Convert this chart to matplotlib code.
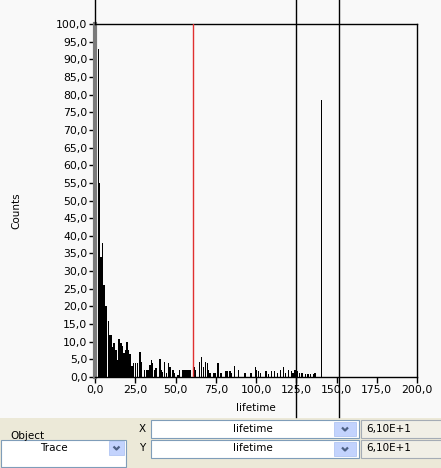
import matplotlib
matplotlib.use("Agg")
import matplotlib.pyplot as plt
from matplotlib.patches import Rectangle
from matplotlib.ticker import FuncFormatter

# ---- data ----
lifetime_bins = [2.0, 2.8, 3.7, 4.7, 5.6, 6.8, 8.5, 9.3, 10.2, 11.0, 11.8, 13.0, 14.0, 14.9,
                 16.1, 17.1, 18.0, 19.1, 19.9, 20.8, 21.7, 23.0, 24.0, 25.3, 26.4, 28.0,
                 29.0, 30.9, 32.1, 32.9, 34.2, 35.0, 35.8, 37.1, 37.9, 40.4, 41.2, 42.0,
                 43.3, 44.5, 45.8, 46.6, 48.4, 49.3, 51.6, 52.4, 54.7, 55.9, 57.1, 58.4,
                 59.4, 61.5, 62.3, 64.8, 66.0, 67.3, 68.5, 69.8, 70.4, 71.4, 73.9, 74.7,
                 76.4, 77.8, 78.7, 81.4, 82.2, 83.9, 84.7, 86.8, 89.3, 93.2, 96.9, 99.6,
                 100.2, 101.7, 103.0, 106.2, 107.6, 109.8, 111.4, 113.5, 115.1, 117.2,
                 118.4, 120.1, 122.2, 123.0, 124.2, 125.9, 127.1, 128.6, 130.6, 132.3,
                 134.0, 136.0, 136.6, 140.7]
counts = [93, 55, 34, 38, 26, 20, 16, 12, 12, 8.6, 9.7, 7.6, 4.8, 10.8,
          9.6, 8.8, 6.9, 7.6, 10, 7.6, 6.5, 3, 3.9, 3.9, 3.9, 7,
          4.3, 2, 2, 2, 3.4, 4.8, 3.9, 2, 2.5, 5.1, 2, 1.5,
          4.3, 1, 3.9, 2.9, 2, 1, 0.6, 2, 2, 2, 2, 2,
          2, 2.9, 2, 4.3, 5.8, 2.9, 4.3, 3.9, 2, 1, 1, 1,
          4.1, 1, 1, 1.8, 1.8, 1.8, 1.1, 3.1, 2, 1, 1, 2.9,
          2, 1.8, 1, 1.8, 0.9, 1.8, 1.8, 1, 2, 2.9,
          1, 2, 1.8, 1, 2, 1.8, 1, 1, 0.9, 0.9,
          0.9, 0.9, 1.1, 78.5]
red_cursor = 61.0
black_cursors = [125.0, 151.5]
x_ticks = [0, 25, 50, 75, 100, 125, 150, 175, 200]
y_ticks = [0, 5, 10, 15, 20, 25, 30, 35, 40, 45, 50, 55, 60, 65, 70, 75, 80, 85, 90, 95, 100]
x_label = "lifetime"
y_label = "Counts"
object_label = "Object"
object_value = "Trace"
x_var = "lifetime"
y_var = "lifetime"
x_value = "6,10E+1"
y_value = "6,10E+1"

W, H = 441, 468
BG = "#f9f9f9"
PANEL = "#ece9d8"
FONT = "DejaVu Sans"

fig = plt.figure(figsize=(W / 100, H / 100), dpi=100, facecolor=BG)

# overlay in pixel coordinates for the control panel
ov = fig.add_axes([0, 0, 1, 1], zorder=0)
ov.set_xlim(0, W)
ov.set_ylim(H, 0)
ov.axis("off")

# main plot axes: x 0..200 -> px 95..417, y 0..100 -> px 377..24
left, right, top, bottom = 95, 417, 24, 377
ax = fig.add_axes([left / W, (H - bottom) / H, (right - left) / W, (bottom - top) / H], zorder=2)
ax.set_facecolor(BG)
ax.bar(lifetime_bins, counts, width=0.75, color="black", align="center", linewidth=0)
ax.set_xlim(0, 200)
ax.set_ylim(0, 100)

fmt = FuncFormatter(lambda v, p: f"{v:.1f}".replace(".", ","))
ax.set_xticks(x_ticks)
ax.set_yticks(y_ticks)
ax.xaxis.set_major_formatter(fmt)
ax.yaxis.set_major_formatter(fmt)
ax.tick_params(axis="both", direction="out", length=4, width=1, color="black",
               labelsize=7.8, pad=1.5)
for lab in ax.get_xticklabels() + ax.get_yticklabels():
    lab.set_fontfamily(FONT)

for s in ["top", "right", "bottom"]:
    ax.spines[s].set_color("black")
    ax.spines[s].set_linewidth(1.0)
ax.spines["left"].set_color("#7a7a7a")
ax.spines["left"].set_linewidth(3.0)

ax.set_xlabel(x_label, fontsize=7.5, fontfamily=FONT)
ax.xaxis.set_label_coords(0.5, -0.075)
ax.set_ylabel(y_label, fontsize=7.5, fontfamily=FONT)
ax.yaxis.set_label_coords(-0.23, 0.47)

# cursors
ax.axvline(red_cursor, ymin=0, ymax=1, color="#e03030", linewidth=1.0, zorder=3)
ybot = (bottom - 417) / (bottom - top)
ytop = bottom / (bottom - top)
for c in black_cursors:
    ax.axvline(c, ymin=ybot, ymax=ytop, color="black", linewidth=1.0, clip_on=False, zorder=4)
ax.axvline(0, ymin=1, ymax=ytop, color="black", linewidth=1.0, clip_on=False, zorder=4)

# ---- control panel (pixel coords) ----
ov.add_patch(Rectangle((0, 418), W, H - 418, facecolor=PANEL, edgecolor="none"))


def box(x0, y0, x1, y1, fc="white", ec="#7f9db9"):
    ov.add_patch(Rectangle((x0, y0), x1 - x0, y1 - y0, facecolor=fc, edgecolor=ec, linewidth=0.8))


def dropdown(x0, y0, x1, y1):
    ov.add_patch(Rectangle((x0, y0), x1 - x0, y1 - y0, facecolor="#c3d3fd", edgecolor="#b2c6f4",
                           linewidth=0.6))
    cx, cy = (x0 + x1) / 2, (y0 + y1) / 2
    ov.plot([cx - 3, cx, cx + 3], [cy - 1.5, cy + 1.5, cy - 1.5], color="#4d6185", linewidth=1.6,
            solid_capstyle="butt")


txt = dict(fontsize=7.5, fontfamily=FONT, color="black", va="center")

ov.text(10, 436, object_label, ha="left", **txt)
box(1, 440, 126, 467)
ov.text(54, 448, object_value, ha="center", **txt)
dropdown(109, 441, 124, 455)

ov.text(142, 429, "X", ha="center", **txt)
ov.text(142, 448, "Y", ha="center", **txt)
box(151, 420, 359, 438)
box(151, 440, 359, 458)
ov.text(253, 429, x_var, ha="center", **txt)
ov.text(253, 448, y_var, ha="center", **txt)
dropdown(334, 422, 356, 436)
dropdown(334, 442, 356, 456)

box(361, 420, 442, 438, fc="#f1efe6", ec="#a5acb5")
box(361, 440, 442, 458, fc="#f1efe6", ec="#a5acb5")
ov.text(366, 429, x_value, ha="left", **txt)
ov.text(366, 448, y_value, ha="left", **txt)

fig.savefig("out.png", dpi=100, facecolor=BG)
